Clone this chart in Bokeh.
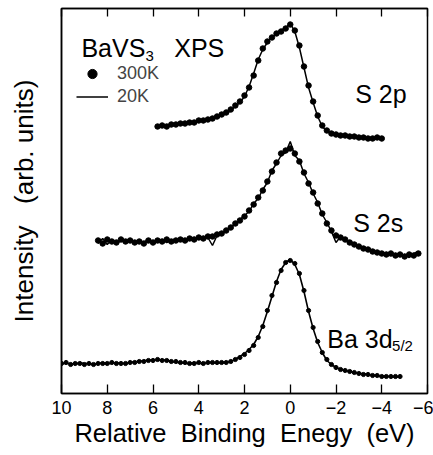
from bokeh.plotting import figure
from bokeh.models import Range1d, FixedTicker, LinearAxis, Label, Legend, LegendItem
from bokeh.embed import file_html
from bokeh.resources import INLINE

# ---------------- data (relative binding energy in eV, intensity in arb. units) ----------------
s2p_e = [5.8, 5.6, 5.4, 5.2, 5.0, 4.8, 4.6, 4.4, 4.2, 4.0, 3.8, 3.6, 3.4, 3.2, 3.0, 2.8, 2.6, 2.4, 2.2, 2.0,
         1.8, 1.6, 1.4, 1.2, 1.0, 0.8, 0.6, 0.4, 0.2, 0.0, -0.2, -0.4, -0.6, -0.8, -1.0, -1.2, -1.4, -1.6, -1.8, -2.0,
         -2.2, -2.4, -2.6, -2.8, -3.0, -3.2, -3.4, -3.6, -3.8, -4.0]
s2p_300k = [267, 268, 267, 269, 269, 270, 270, 271, 271, 273, 273, 274, 275, 277, 279, 281, 284, 288, 292, 298,
            306, 318, 333, 345, 352, 356, 360, 362, 365, 369, 363, 348, 327, 308, 292, 278, 268, 263, 260, 259,
            258, 258, 257, 257, 256, 256, 255, 255, 256, 255]
s2p_20k = [268, 267, 268, 268, 270, 269, 271, 270, 272, 272, 274, 273, 275, 276, 278, 280, 283, 287, 291, 297,
           307, 320, 334, 344, 351, 357, 359, 363, 366, 370, 362, 346, 326, 306, 291, 277, 267, 262, 260, 258,
           258, 257, 257, 256, 256, 255, 255, 254, 255, 255]

s2s_e = [8.4, 8.2, 8.0, 7.8, 7.6, 7.4, 7.2, 7.0, 6.8, 6.6, 6.4, 6.2, 6.0, 5.8, 5.6, 5.4, 5.2, 5.0, 4.8, 4.6,
         4.4, 4.2, 4.0, 3.8, 3.6, 3.4, 3.2, 3.0, 2.8, 2.6, 2.4, 2.2, 2.0, 1.8, 1.6, 1.4, 1.2, 1.0, 0.8, 0.6,
         0.4, 0.2, 0.0, -0.2, -0.4, -0.6, -0.8, -1.0, -1.2, -1.4, -1.6, -1.8, -2.0, -2.2, -2.4, -2.6, -2.8, -3.0,
         -3.2, -3.4, -3.6, -3.8, -4.0, -4.2, -4.4, -4.6, -4.8, -5.0, -5.2, -5.4, -5.6]
s2s_300k = [153, 150, 154, 152, 151, 154, 152, 153, 151, 152, 150, 153, 151, 153, 152, 154, 152, 153, 154, 153,
            155, 154, 156, 155, 157, 157, 159, 160, 163, 166, 170, 173, 177, 183, 189, 196, 203, 212, 222, 231,
            240, 243, 245, 240, 232, 221, 210, 201, 190, 180, 170, 163, 158, 156, 154, 151, 149, 147,
            145, 144, 142, 141, 140, 139, 140, 138, 139, 137, 139, 138, 140]
s2s_20k = [150, 155, 149, 154, 150, 153, 151, 155, 150, 153, 151, 154, 150, 152, 154, 151, 153, 152, 155, 152,
           154, 156, 155, 157, 156, 148, 158, 161, 162, 167, 169, 174, 178, 182, 190, 195, 204, 211, 223, 230,
           238, 241, 252, 238, 233, 220, 211, 200, 191, 179, 171, 162, 151, 157, 153, 152, 148, 148,
           144, 145, 141, 142, 139, 141, 138, 140, 137, 139, 136, 140, 142]

ba_e = [10.0, 9.8, 9.6, 9.4, 9.2, 9.0, 8.8, 8.6, 8.4, 8.2, 8.0, 7.8, 7.6, 7.4, 7.2, 7.0, 6.8, 6.6, 6.4, 6.2,
        6.0, 5.8, 5.6, 5.4, 5.2, 5.0, 4.8, 4.6, 4.4, 4.2, 4.0, 3.8, 3.6, 3.4, 3.2, 3.0, 2.8, 2.6, 2.4, 2.2,
        2.0, 1.8, 1.6, 1.4, 1.2, 1.0, 0.8, 0.6, 0.4, 0.2, 0.0, -0.2, -0.4, -0.6, -0.8, -1.0, -1.2, -1.4, -1.6, -1.8,
        -2.0, -2.2, -2.4, -2.6, -2.8, -3.0, -3.2, -3.4, -3.6, -3.8, -4.0, -4.2, -4.4, -4.6, -4.8]
ba_300k = [30, 31, 29, 30, 30, 29, 30, 29, 30, 30, 30, 31, 30, 30, 30, 31, 31, 32, 32, 33,
           33, 34, 33, 33, 32, 32, 31, 31, 30, 30, 31, 30, 31, 31, 31, 31, 31, 32, 34, 36,
           39, 43, 48, 56, 67, 83, 98, 111, 123, 131, 133, 130, 120, 103, 83, 66, 52, 41, 34, 29,
           26, 24, 23, 22, 21, 20, 19, 19, 18, 18, 17, 17, 17, 17, 17]
ba_20k = [30, 30, 30, 29, 31, 30, 30, 29, 30, 31, 30, 30, 31, 30, 30, 31, 32, 32, 33, 33,
          34, 33, 34, 33, 32, 31, 31, 30, 30, 31, 30, 30, 31, 31, 30, 31, 31, 32, 34, 37,
          40, 44, 49, 57, 68, 82, 97, 112, 124, 131, 134, 129, 119, 102, 82, 65, 51, 41, 33, 29,
          26, 24, 23, 22, 21, 20, 20, 19, 18, 18, 17, 17, 17, 16, 17]

x_ticks = [10, 8, 6, 4, 2, 0, -2, -4, -6]

FONT = "Liberation Sans"

p = figure(width=433, height=455, x_range=Range1d(10, -6), y_range=Range1d(0, 385),
           output_backend="svg", toolbar_location=None,
           min_border_left=61, min_border_right=6, min_border_top=8, min_border_bottom=62)
p.background_fill_color = "white"
p.border_fill_color = "white"
p.xgrid.visible = False
p.ygrid.visible = False
p.outline_line_color = "black"
p.outline_line_width = 1.5

# bottom axis
xa = p.xaxis[0]
xa.ticker = FixedTicker(ticks=x_ticks)
xa.major_tick_in = 9
xa.major_tick_out = 0
xa.minor_tick_line_color = None
xa.major_tick_line_width = 1.3
xa.axis_line_width = 1.5
xa.major_label_text_font = FONT
xa.major_label_text_font_size = "18px"
xa.major_label_text_color = "black"
xa.major_label_standoff = 7
xa.axis_label = "Relative\u00a0 Binding\u00a0 Enegy\u00a0 (eV)"
xa.axis_label_text_font = FONT
xa.axis_label_text_font_size = "25.5px"
xa.axis_label_text_font_style = "normal"
xa.axis_label_text_color = "black"
xa.axis_label_standoff = 2

# top axis: ticks only
top = LinearAxis(ticker=FixedTicker(ticks=x_ticks), major_tick_in=8, major_tick_out=0,
                 minor_tick_line_color=None, major_label_text_font_size="0px",
                 major_label_text_color=None,
                 major_label_standoff=0, axis_line_width=1.5, major_tick_line_width=1.3)
p.add_layout(top, "above")

# left axis: label only
ya = p.yaxis[0]
ya.ticker = FixedTicker(ticks=[])
ya.major_tick_line_color = None
ya.minor_tick_line_color = None
ya.major_label_text_font_size = "0px"
ya.major_label_text_color = None
ya.major_label_standoff = 0
ya.axis_line_width = 1.5
ya.axis_label = "Intensity\u00a0\u00a0 (arb. units)"
ya.axis_label_text_font = FONT
ya.axis_label_text_font_size = "26px"
ya.axis_label_text_font_style = "normal"
ya.axis_label_text_color = "black"
ya.axis_label_standoff = 23

# spectra: 20K as lines, 300K as dots
l1 = p.line(s2p_e, s2p_20k, line_color="black", line_width=1.5)
d1 = p.scatter(s2p_e, s2p_300k, size=5.5, fill_color="black", line_color="black")
p.line(s2s_e, s2s_20k, line_color="black", line_width=1.5)
p.scatter(s2s_e, s2s_300k, size=5.5, fill_color="black", line_color="black")
p.line(ba_e, ba_20k, line_color="black", line_width=1.6)
p.scatter(ba_e, ba_300k, size=4.2, fill_color="black", line_color="black")

legend = Legend(items=[LegendItem(label="300K", renderers=[d1]),
                       LegendItem(label="20K", renderers=[l1])],
                location=(15, 285), orientation="vertical",
                glyph_width=32, glyph_height=23, label_height=23, label_standoff=9,
                spacing=0, padding=0, margin=0,
                label_text_font=FONT, label_text_font_size="18px",
                border_line_color=None, background_fill_alpha=0)
p.add_layout(legend, "center")

def lab(x, y, text, size):
    p.add_layout(Label(x=x, y=y, text=text, text_font=FONT, text_font_size=size,
                       text_color="black", text_baseline="alphabetic", text_align="left"))

lab(9.13, 346, "BaVS", "25px")
lab(6.33, 338, "3", "15px")
lab(5.07, 346, "XPS", "25px")
lab(-2.84, 300, "S 2p", "25px")
lab(-2.75, 171, "S 2s", "25px")
lab(-1.62, 55, "Ba 3d", "25px")
lab(-4.45, 48, "5/2", "15px")

open("out.html", "w").write(file_html(p, INLINE))
